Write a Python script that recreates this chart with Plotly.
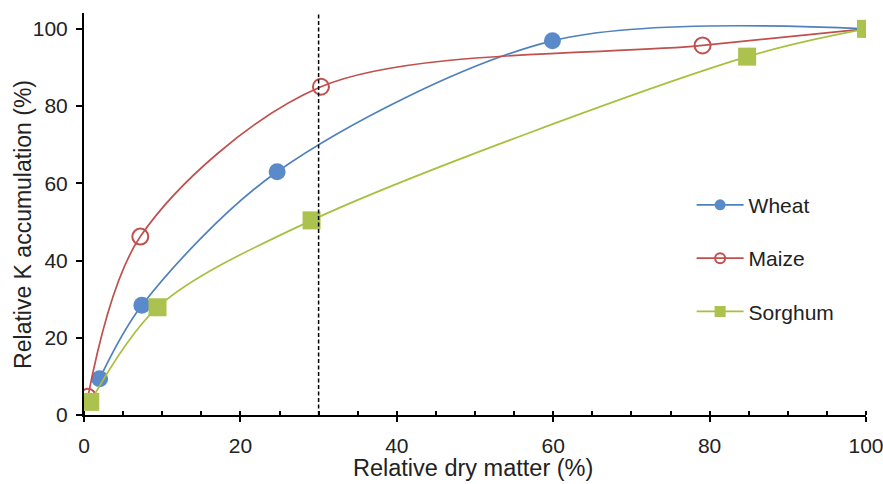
import plotly.graph_objects as go

wheat_x = [2.0, 7.4, 24.7, 59.9, 100]
wheat_y = [9.4, 28.4, 63.0, 96.9, 100]
maize_x = [0.5, 7.2, 30.3, 79.1, 100]
maize_y = [4.7, 46.2, 85.0, 95.7, 100]
sorghum_x = [0.8, 9.4, 29.1, 84.8, 100]
sorghum_y = [3.4, 27.9, 50.4, 92.8, 100]

x_ticks = [0, 20, 40, 60, 80, 100]
y_ticks = [0, 20, 40, 60, 80, 100]
threshold_x = 30

FONT = "Liberation Sans, Arial, sans-serif"
BLUE_L, BLUE_M = "#4F81BD", "#5A8AC9"
RED = "#C0504D"
GREEN_L, GREEN_M = "#A6C03F", "#ABC24E"

fig = go.Figure()
series = [
    ("Wheat", wheat_x, wheat_y, BLUE_L, dict(symbol="circle", size=17, color=BLUE_M),
     dict(symbol="circle", size=11, color=BLUE_M)),
    ("Maize", maize_x, maize_y, RED, dict(symbol="circle-open", size=16, color=RED, line=dict(width=2)),
     dict(symbol="circle-open", size=10, color=RED, line=dict(width=2))),
    ("Sorghum", sorghum_x, sorghum_y, GREEN_L, dict(symbol="square", size=18, color=GREEN_M),
     dict(symbol="square", size=11, color=GREEN_M)),
]
for name, xs, ys, lc, mk, lmk in series:
    fig.add_trace(go.Scatter(x=xs, y=ys, name=name, mode="lines+markers",
                             line=dict(color=lc, width=1.7, shape="spline", smoothing=0.9),
                             marker=mk, showlegend=False))
for name, xs, ys, lc, mk, lmk in series:
    fig.add_trace(go.Scatter(x=[None], y=[None], name=name, mode="lines+markers",
                             line=dict(color=lc, width=1.7), marker=lmk,
                             legendgroup=name, showlegend=True))

fig.add_shape(type="line", x0=threshold_x, x1=threshold_x, y0=0, y1=1, yref="paper",
              line=dict(color="black", width=1.5, dash="4px,2.5px"))

fig.add_annotation(text="Relative dry matter (%)", xref="paper", yref="paper",
                   x=0.498, y=-0.131, xanchor="center", yanchor="middle", showarrow=False,
                   font=dict(size=23.5, family=FONT, color="#222222"))
fig.add_annotation(text="Relative K accumulation (%)", xref="paper", yref="paper",
                   x=-0.079, y=0.4735, xanchor="center", yanchor="middle", showarrow=False,
                   textangle=-90, font=dict(size=23, family=FONT, color="#222222"))

fig.update_layout(
    width=883, height=484,
    margin=dict(l=83.5, r=17, t=12.7, b=69),
    plot_bgcolor="white", paper_bgcolor="white",
    font=dict(family=FONT, size=21, color="#222222"),
    showlegend=True,
    legend=dict(x=0.777, y=0.39, xanchor="left", yanchor="middle",
                font=dict(size=21), tracegroupgap=23, itemwidth=47,
                bgcolor="rgba(0,0,0,0)"),
    xaxis=dict(range=[0, 100], tickvals=x_ticks, showgrid=False, zeroline=False,
               showline=True, linecolor="black", linewidth=2, automargin=False,
               ticks="outside", ticklen=5, tickwidth=2, tickcolor="black",
               ticklabelstandoff=6, ticklabeloverflow="allow",
               minor=dict(dtick=5, ticks="inside", ticklen=4, tickwidth=1.5, tickcolor="black"),
               tickfont=dict(size=21)),
    yaxis=dict(range=[0, 104.1], tickvals=y_ticks, showgrid=False, zeroline=False,
               showline=True, linecolor="black", linewidth=2, automargin=False,
               ticks="outside", ticklen=6, tickwidth=2, tickcolor="black",
               ticklabelstandoff=4, ticklabeloverflow="allow",
               tickfont=dict(size=21)),
)

fig.write_html("out.html", config={"displayModeBar": False},
               post_script="document.body.style.margin='0';document.body.style.overflow='hidden';")
